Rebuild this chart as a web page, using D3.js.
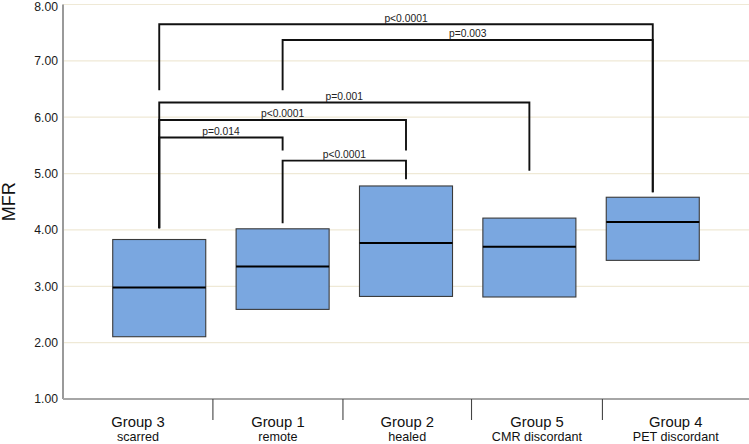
<!DOCTYPE html>
<html>
<head>
<meta charset="utf-8">
<script src="https://cdn.jsdelivr.net/npm/d3@7"></script>
<style>
  html, body { margin: 0; padding: 0; background: #fff; }
  svg { display: block; font-family: "Liberation Sans", Arial, sans-serif; }
</style>
</head>
<body>
<svg id="chart" width="749" height="444"></svg>
<script>
// ---- data ----
const groups = ["Group 3", "Group 1", "Group 2", "Group 5", "Group 4"];
const subtitles = ["scarred", "remote", "healed", "CMR discordant", "PET discordant"];
const q1 = [2.105, 2.59, 2.82, 2.81, 3.46];
const medians = [2.98, 3.35, 3.77, 3.70, 4.14];
const q3 = [3.83, 4.02, 4.78, 4.21, 4.58];
const yTicks = [1, 2, 3, 4, 5, 6, 7, 8];
// category dividers on the x axis (in category-index units)
const dividers = [0.435, 1.489, 2.531, 3.592];
// significance brackets: [from, to, barValue, leftLegEnd, rightLegEnd, label]
const bracketFrom = [0, 1, 0, 0, 0, 1];
const bracketTo = [4, 4, 3, 2, 1, 2];
const bracketLevel = [7.65, 7.37, 6.26, 5.95, 5.64, 5.23];
const bracketLeftEnd = [6.48, 6.48, 4.03, 4.03, 4.03, 4.12];
const bracketRightEnd = [4.67, 4.67, 5.05, 5.41, 5.41, 4.90];
const bracketLabels = ["p<0.0001", "p=0.003", "p=0.001", "p<0.0001", "p=0.014", "p<0.0001"];

// ---- layout ----
const svg = d3.select("#chart");
const xMin = -0.78, xMax = 4.78;
const x = d3.scaleLinear().domain([xMin, xMax]).range([63, 749]);
const y = d3.scaleLinear().domain([1, 8]).range([399, 4.5]);
const step = x(1) - x(0);
const boxW = step * 0.754;

// gridlines
svg.append("g").selectAll("line").data(yTicks.slice(1)).join("line")
  .attr("x1", x(xMin)).attr("x2", x(xMax))
  .attr("y1", d => y(d)).attr("y2", d => y(d))
  .attr("stroke", "#efe9d6").attr("stroke-width", 1.2);

// y axis labels
const yAxis = d3.axisLeft(y).tickValues(yTicks).tickFormat(d3.format(".2f")).tickSize(0).tickPadding(5);
const yg = svg.append("g").attr("transform", `translate(${x(xMin)},0)`).call(yAxis);
yg.select(".domain").remove();
yg.selectAll("text").attr("font-size", 12.2).attr("fill", "#1a1a1a")
  .attr("font-family", "'Liberation Sans', Arial, sans-serif");
// keep the top label inside the picture
yg.selectAll(".tick").filter(d => d === d3.max(yTicks)).select("text").attr("y", 1.6);

// axis lines
svg.append("line").attr("x1", x(xMin)).attr("x2", x(xMin)).attr("y1", y(8)).attr("y2", y(1))
  .attr("stroke", "#9a9a9a").attr("stroke-width", 2);
svg.append("line").attr("x1", x(xMin)).attr("x2", x(xMax)).attr("y1", y(1)).attr("y2", y(1))
  .attr("stroke", "#a6a6a6").attr("stroke-width", 2);

// dividers
svg.append("g").selectAll("line").data(dividers).join("line")
  .attr("x1", d => x(d)).attr("x2", d => x(d))
  .attr("y1", y(1)).attr("y2", y(1) + 21)
  .attr("stroke", "#444").attr("stroke-width", 1.1);

// category labels centered between boundaries
const bounds = [xMin, ...dividers, xMax];
const labelCx = groups.map((g, i) => (x(bounds[i]) + x(bounds[i + 1])) / 2);
svg.append("g").selectAll("text").data(groups).join("text")
  .attr("x", (d, i) => labelCx[i]).attr("y", 427)
  .attr("text-anchor", "middle").attr("font-size", 14.8).attr("fill", "#111")
  .text(d => d);
svg.append("g").selectAll("text").data(subtitles).join("text")
  .attr("x", (d, i) => labelCx[i]).attr("y", 440.5)
  .attr("text-anchor", "middle").attr("font-size", 12.6).attr("fill", "#111")
  .text(d => d);

// y title
svg.append("text").attr("transform", `translate(14.5,${(y(8) + y(1)) / 2}) rotate(-90)`)
  .attr("text-anchor", "middle").attr("font-size", 18).attr("fill", "#111").text("MFR");

// brackets
const bg = svg.append("g");
bracketLabels.forEach((lab, k) => {
  const xa = x(bracketFrom[k]), xb = x(bracketTo[k]), yb = y(bracketLevel[k]);
  bg.append("path")
    .attr("d", `M${xa},${y(bracketLeftEnd[k])}V${yb}H${xb}V${y(bracketRightEnd[k])}`)
    .attr("fill", "none").attr("stroke", "#111").attr("stroke-width", 1.9)
    .attr("stroke-linejoin", "miter");
  bg.append("text").attr("x", (xa + xb) / 2).attr("y", yb - 2.6)
    .attr("text-anchor", "middle").attr("font-size", 10.3).attr("fill", "#222").text(lab);
});

// boxes
const boxes = svg.append("g").selectAll("g").data(groups).join("g");
boxes.append("rect")
  .attr("x", (d, i) => x(i) - boxW / 2).attr("width", boxW)
  .attr("y", (d, i) => y(q3[i])).attr("height", (d, i) => y(q1[i]) - y(q3[i]))
  .attr("fill", "#7aa7e0").attr("stroke", "#3a3a3a").attr("stroke-width", 1.1);
boxes.append("line")
  .attr("x1", (d, i) => x(i) - boxW / 2).attr("x2", (d, i) => x(i) + boxW / 2)
  .attr("y1", (d, i) => y(medians[i])).attr("y2", (d, i) => y(medians[i]))
  .attr("stroke", "#000").attr("stroke-width", 2);
</script>
</body>
</html>
